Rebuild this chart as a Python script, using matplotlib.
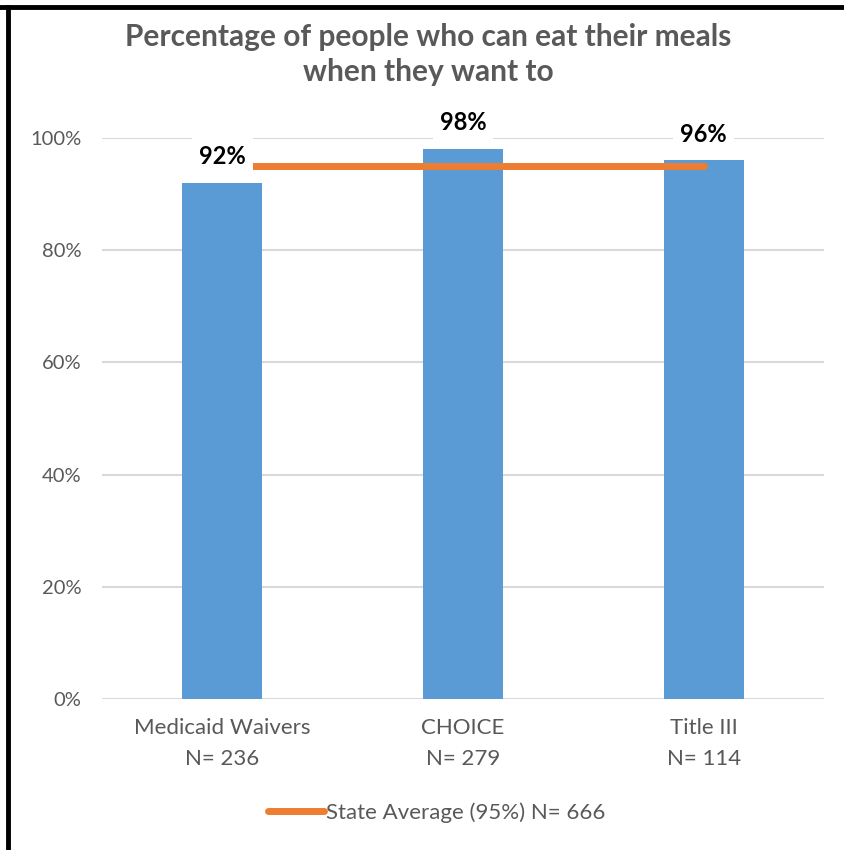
import matplotlib.pyplot as plt
from matplotlib.lines import Line2D

# data
categories = ['Medicaid Waivers\nN= 236', 'CHOICE\nN= 279', 'Title III\nN= 114']
values = [92, 98, 96]
labels = ['92%', '98%', '96%']
state_avg = 95
legend_label = 'State Average (95%) N= 666'
y_ticks = [0, 20, 40, 60, 80, 100]

plt.rcParams['font.family'] = ['Lato', 'DejaVu Sans']

bar_color = '#5B9BD5'
line_color = '#ED7D31'
text_gray = '#595959'

fig = plt.figure(figsize=(8.45, 8.5), dpi=100)
ax = fig.add_axes([102 / 845, 151 / 850, 722 / 845, 561 / 850])

x = list(range(len(categories)))
ax.bar(x, values, width=0.333, color=bar_color, zorder=2)
ax.plot([x[0], x[-1]], [state_avg, state_avg], color=line_color, lw=5,
        solid_capstyle='round', zorder=3)

for xi, v, lab in zip(x, values, labels):
    ax.annotate(lab, (xi, v), xytext=(0, 19), textcoords='offset points',
                ha='center', va='center', fontsize=17, fontweight='bold',
                color='black', zorder=4,
                bbox=dict(boxstyle='square,pad=0.3', fc='white', ec='none'))

ax.set_xlim(-0.5, 2.5)
ax.set_ylim(0, 100)
ax.set_yticks(y_ticks)
ax.set_yticklabels([f'{t}%' for t in y_ticks])
ax.set_xticks(x)
ax.set_xticklabels(categories, linespacing=1.65)
ax.tick_params(axis='both', length=0, colors=text_gray)
ax.tick_params(axis='y', pad=15, labelsize=14.5)
ax.tick_params(axis='x', pad=14, labelsize=16)
ax.grid(axis='y', color='#D9D9D9', lw=1.5, zorder=0)
ax.set_axisbelow(True)
for s in ax.spines.values():
    s.set_visible(False)

fig.text(0.507, 0.973, 'Percentage of people who can eat their meals\nwhen they want to',
         ha='center', va='top', fontsize=21.5, fontweight='bold', color=text_gray,
         linespacing=1.3)

handle = Line2D([], [], color=line_color, lw=5, solid_capstyle='round')
fig.legend([handle], [legend_label], loc='center', bbox_to_anchor=(0.517, 0.044),
           frameon=False, fontsize=16, labelcolor=text_gray, handlelength=2.5,
           handletextpad=0.1)

# black frame on top and left like the source screenshot
fig.add_artist(Line2D([0, 1], [1 - 6.5 / 850] * 2, color='black', lw=3.5))
fig.add_artist(Line2D([8.5 / 845] * 2, [0, 1 - 6.5 / 850], color='black', lw=3.5))

fig.savefig('out.png', dpi=100, facecolor='white')
